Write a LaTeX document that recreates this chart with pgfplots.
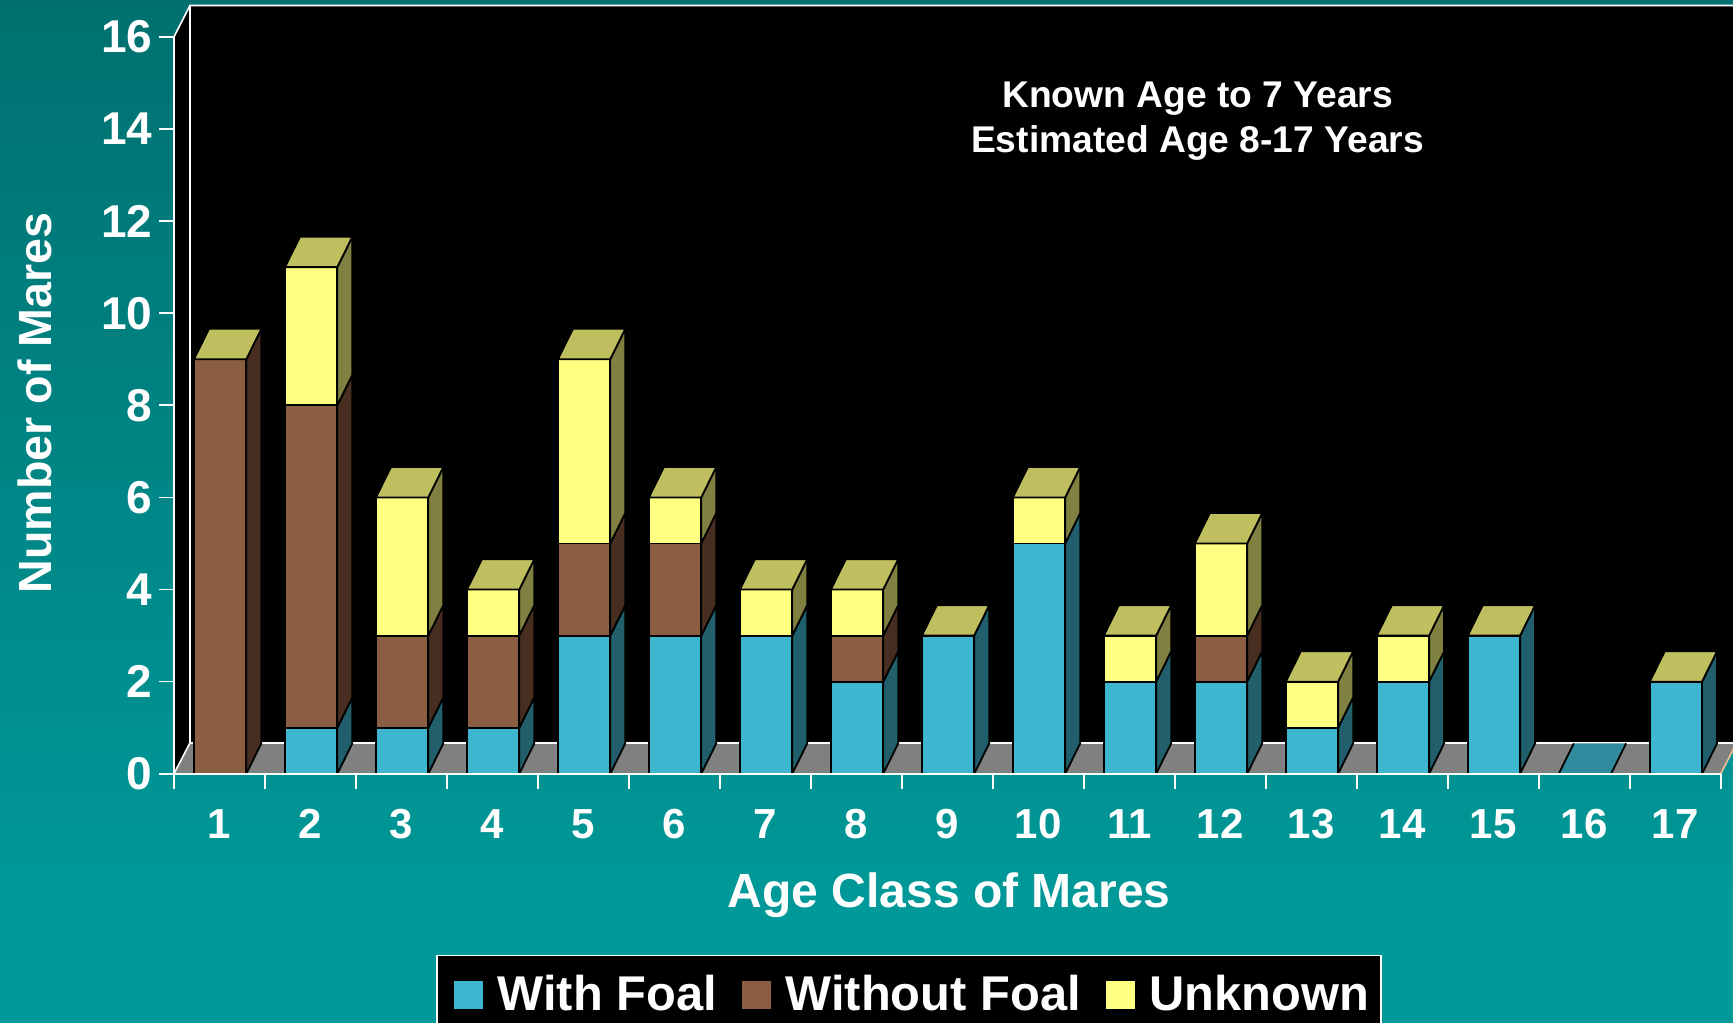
\documentclass[border=0pt]{standalone}
\usepackage{fontspec}
\setmainfont{Liberation Sans}
\usepackage{pgfplots}
\pgfplotsset{compat=1.18}

\definecolor{bgtop}{RGB}{0,112,112}
\definecolor{bgbot}{RGB}{0,153,153}
\definecolor{blueF}{RGB}{63,182,207}
\definecolor{blueS}{RGB}{32,95,107}
\definecolor{brownF}{RGB}{139,94,66}
\definecolor{brownS}{RGB}{71,46,32}
\definecolor{yellowF}{RGB}{255,255,128}
\definecolor{yellowS}{RGB}{128,128,64}
\definecolor{topF}{RGB}{191,191,95}
\definecolor{flatF}{RGB}{49,139,158}
\definecolor{floorF}{RGB}{128,128,128}

\pgfdeclareverticalshading{bgfade}{100bp}{color(0bp)=(bgbot); color(30bp)=(bgbot); color(75bp)=(bgtop); color(100bp)=(bgtop)}

\newcommand\poly[2]{\addplot[forget plot,#1] coordinates {#2};}

% one coloured block of a bar: class, lower, upper, colour prefix
\newcommand\seg[4]{%
  \pgfmathsetmacro\xa{#1-1+0.22}%
  \pgfmathsetmacro\xb{#1-1+0.795}%
  \pgfmathsetmacro\xc{\xb+0.165}%
  \pgfmathsetmacro\ya{#2+0.66}%
  \pgfmathsetmacro\yb{#3+0.66}%
  \edef\tmp{\noexpand\poly{barline,fill=#4F}{(\xa,#2)(\xb,#2)(\xb,#3)(\xa,#3)(\xa,#2)}%
    \noexpand\poly{barline,fill=#4S}{(\xb,#2)(\xc,\ya)(\xc,\yb)(\xb,#3)(\xb,#2)}}\tmp}

% lid of a bar
\newcommand\lid[2]{%
  \pgfmathsetmacro\xa{#1-1+0.22}%
  \pgfmathsetmacro\xb{#1-1+0.795}%
  \pgfmathsetmacro\xc{\xb+0.165}%
  \pgfmathsetmacro\xd{\xa+0.165}%
  \pgfmathsetmacro\yb{#2+0.66}%
  \edef\tmp{\noexpand\poly{barline,fill=topF}{(\xa,#2)(\xb,#2)(\xc,\yb)(\xd,\yb)(\xa,#2)}}\tmp}

% class, with foal, without foal, unknown
\newcommand\stackbar[4]{%
  \pgfmathsetmacro\sa{#2}%
  \pgfmathsetmacro\sb{#2+#3}%
  \pgfmathsetmacro\sc{#2+#3+#4}%
  \ifdim#2pt>0pt \seg{#1}{0}{\sa}{blue}\fi
  \ifdim#3pt>0pt \seg{#1}{\sa}{\sb}{brown}\fi
  \ifdim#4pt>0pt \seg{#1}{\sb}{\sc}{yellow}\fi
  \lid{#1}{\sc}}

\begin{document}
\begin{tikzpicture}
\path[use as bounding box] (0,0) rectangle (866.5pt,511pt);
\clip (0,0) rectangle (866.5pt,511pt);
\shade[shading=bgfade] (0,0) rectangle (866.5pt,511pt);
\begin{axis}[
  at={(87pt,124.1pt)}, anchor=south west,
  scale only axis, width=773.35pt, height=368.5pt,
  xmin=0, xmax=17, ymin=0, ymax=16,
  clip=false, axis on top,
  axis lines=left,
  axis line style={-,white,line width=0.8pt},
  tick align=outside,
  major tick length=7.5pt, minor tick length=7.5pt,
  every tick/.style={white,line width=0.8pt},
  ytick={0,2,...,16},
  xtick={0.5,1.5,...,16.5},
  xticklabels={1,2,3,4,5,6,7,8,9,10,11,12,13,14,15,16,17},
  minor xtick={0,1,...,17},
  major x tick style={draw=none},
  /pgf/number format/assume math mode=true,
  xticklabel style={font=\fontsize{21}{25}\selectfont\bfseries,text=white,inner sep=0pt,yshift=-10pt},
  yticklabel style={font=\fontsize{23}{27}\selectfont\bfseries,text=white,inner sep=0pt,xshift=-3.2pt},
  xlabel={Age Class of Mares},
  ylabel={Number of Mares},
  xlabel style={font=\fontsize{24}{28}\selectfont\bfseries,text=white,at={(axis cs:8.52,-2.64)},anchor=center},
  ylabel style={font=\fontsize{23.3}{28}\selectfont\bfseries,text=white,at={(axis cs:-1.527,8.05)},anchor=center},
  barline/.style={draw=black,line width=0.9pt,line join=round},
  legend style={at={(axis cs:2.879,-3.93)},anchor=north west,fill=black,draw=white,line width=0.8pt,
    text=white,font=\fontsize{24.4}{28}\selectfont\bfseries,legend columns=3,
    inner xsep=4pt,inner ysep=8pt,
    /tikz/every even column/.append style={column sep=5.9pt}},
  legend image code/.code={\path[#1,draw=none] (0pt,-7pt) rectangle (14.5pt,7pt);\path (-4.3pt,0pt) (19.4pt,0pt);},
]
% walls and floor
\poly{fill=black,draw=none}{(0,0)(0.176,0.674)(17.3,0.674)(17.3,16.68)(0.176,16.68)(0,16)(0,0)}
\poly{fill=floorF,draw=none}{(0,0)(17,0)(17.176,0.674)(0.176,0.674)(0,0)}
\poly{white,line width=0.8pt}{(0,0)(0.176,0.674)(0.176,16.68)(17.3,16.68)}
\poly{white,line width=0.8pt}{(0,16)(0.176,16.68)}
\poly{white,line width=1pt}{(0.176,0.674)(17.3,0.674)}
\poly{color={rgb,255:red,240;green,192;blue,144},line width=0.8pt}{(17,0)(17.176,0.674)}

\stackbar{1}{0}{9}{0}
\stackbar{2}{1}{7}{3}
\stackbar{3}{1}{2}{3}
\stackbar{4}{1}{2}{1}
\stackbar{5}{3}{2}{4}
\stackbar{6}{3}{2}{1}
\stackbar{7}{3}{0}{1}
\stackbar{8}{2}{1}{1}
\stackbar{9}{3}{0}{0}
\stackbar{10}{5}{0}{1}
\stackbar{11}{2}{0}{1}
\stackbar{12}{2}{1}{2}
\stackbar{13}{1}{0}{1}
\stackbar{14}{2}{0}{1}
\stackbar{15}{3}{0}{0}
\stackbar{17}{2}{0}{0}
% class 16 is empty, only its flat base shows
\poly{fill=flatF,draw=none}{(15.22,0)(15.795,0)(15.96,0.66)(15.385,0.66)(15.22,0)}
\poly{black,line width=0.9pt}{(15.22,0)(15.385,0.66)}
\poly{black,line width=0.9pt}{(15.795,0)(15.96,0.66)}

\addlegendimage{fill=blueF}
\addlegendentry{With Foal}
\addlegendimage{fill=brownF}
\addlegendentry{Without Foal}
\addlegendimage{fill=yellowF}
\addlegendentry{Unknown}

\node[text=white,align=center,font=\fontsize{18.6}{22.5}\selectfont\bfseries] at (axis cs:11.25,14.16)
  {Known Age to 7 Years\\Estimated Age 8-17 Years};
\end{axis}
\end{tikzpicture}
\end{document}
